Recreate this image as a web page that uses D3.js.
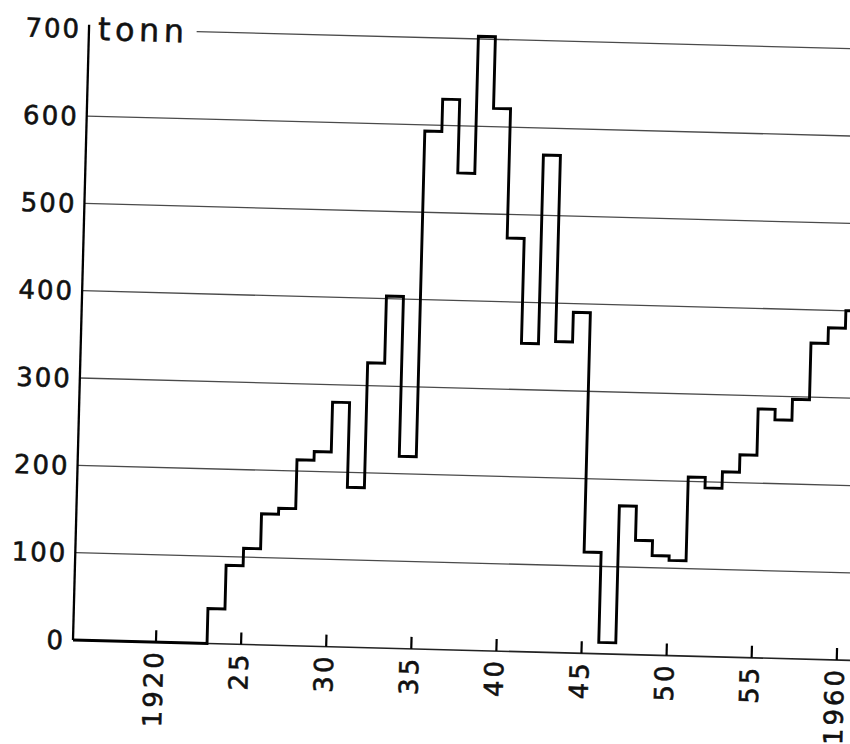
<!DOCTYPE html>
<html><head><meta charset="utf-8">
<script src="https://cdn.jsdelivr.net/npm/d3@7/dist/d3.min.js"></script>
<style>html,body{margin:0;padding:0;background:#fff;} svg{display:block;}</style>
</head><body>
<svg id="chart" width="850" height="744"></svg>
<script>
// ---- data ----
const years = [1923,1924,1925,1926,1927,1928,1929,1930,1931,1932,1933,1934,1935,1936,1937,1938,1939,1940,1941,1942,1943,1944,1945,1946,1947,1948,1949,1950,1951,1952,1953,1954,1955,1956,1957,1958,1959,1960];
const tonnes = [40,90,110,150,157,213,223,280,183,326,403,220,593,630,546,703,621,473,353,569,356,390,116,13,170,131,114,109,205,193,212,232,285,273,297,362,380,400];
const yTicks = [0,100,200,300,400,500,600,700];
const xTicks = [1920,1925,1930,1935,1940,1945,1950,1955,1960];
const xTickLabels = ["1920","25","30","35","40","45","50","55","1960"];
const unitLabel = "tonn";

// ---- layout ----
const W = 850, H = 744;
const axisX = 73;
const x = d3.scaleLinear().domain([1920, 1960]).range([156, 837]);
const y = d3.scaleLinear().domain([0, 700]).range([640, 28.5]);
const rightEnd = 862;
const font = "'DejaVu Sans', sans-serif";

const svg = d3.select("#chart");
svg.append("rect").attr("width", W).attr("height", H).attr("fill", "#fff");
// the scanned original is tilted slightly clockwise
const g = svg.append("g").attr("transform", `rotate(1.5, ${axisX}, ${y(0)})`);

// unit label
const unit = g.append("text")
  .attr("x", axisX + 9).attr("y", y(700) + 11)
  .attr("font-family", font).attr("font-size", 32)
  .attr("letter-spacing", 4.5).attr("fill", "#111")
  .attr("stroke", "#111").attr("stroke-width", 0.5)
  .text(unitLabel);
const unitEnd = axisX + 9 + unit.node().getComputedTextLength() + 8;

// gridlines
g.selectAll("line.grid").data(yTicks.filter(d => d > 0)).join("line")
  .attr("class", "grid")
  .attr("x1", d => d === 700 ? unitEnd : axisX)
  .attr("x2", rightEnd)
  .attr("y1", d => y(d)).attr("y2", d => y(d))
  .attr("stroke", "#4a4a4a").attr("stroke-width", 1.3);

// x axis baseline
g.append("line")
  .attr("x1", axisX).attr("x2", rightEnd)
  .attr("y1", y(0)).attr("y2", y(0))
  .attr("stroke", "#222").attr("stroke-width", 1.6);

// y axis line
g.append("line")
  .attr("x1", axisX).attr("x2", axisX)
  .attr("y1", y(0)).attr("y2", y(700) - 4)
  .attr("stroke", "#000").attr("stroke-width", 2.3);

// y tick labels
const yls = 2;
g.selectAll("text.ylab").data(yTicks).join("text")
  .attr("class", "ylab")
  .attr("x", axisX - 10 + yls)
  .attr("y", d => y(d)).attr("dy", "0.36em")
  .attr("text-anchor", "end")
  .attr("font-family", font).attr("font-size", 26)
  .attr("letter-spacing", yls).attr("fill", "#111")
  .attr("stroke", "#111").attr("stroke-width", 0.6)
  .text(d => d);

// x ticks
g.selectAll("line.xtick").data(xTicks).join("line")
  .attr("class", "xtick")
  .attr("x1", d => x(d)).attr("x2", d => x(d))
  .attr("y1", y(0)).attr("y2", y(0) - 12)
  .attr("stroke", "#000").attr("stroke-width", 2.2);

// x tick labels (rotated, reading upwards)
const xls = 3;
g.selectAll("text.xlab").data(xTicks).join("text")
  .attr("class", "xlab")
  .attr("transform", d => `translate(${x(d) - 2}, ${y(0) + 10 - xls}) rotate(-90)`)
  .attr("dy", "0.36em")
  .attr("text-anchor", "end")
  .attr("font-family", font).attr("font-size", 26)
  .attr("letter-spacing", xls).attr("fill", "#111")
  .attr("stroke", "#111").attr("stroke-width", 0.6)
  .text((d, i) => xTickLabels[i]);

// step series
const pts = [[x.invert(axisX), 0]]
  .concat([[years[0] - 1, 0]])
  .concat(years.map((yr, i) => [yr, tonnes[i]]))
  .concat([[years[years.length - 1] + 1, tonnes[tonnes.length - 1]]]);
const line = d3.line().x(d => x(d[0])).y(d => y(d[1])).curve(d3.curveStepAfter);
g.append("path")
  .attr("d", line(pts))
  .attr("fill", "none").attr("stroke", "#000")
  .attr("stroke-width", 2.9).attr("stroke-linejoin", "miter");
</script>
</body></html>
